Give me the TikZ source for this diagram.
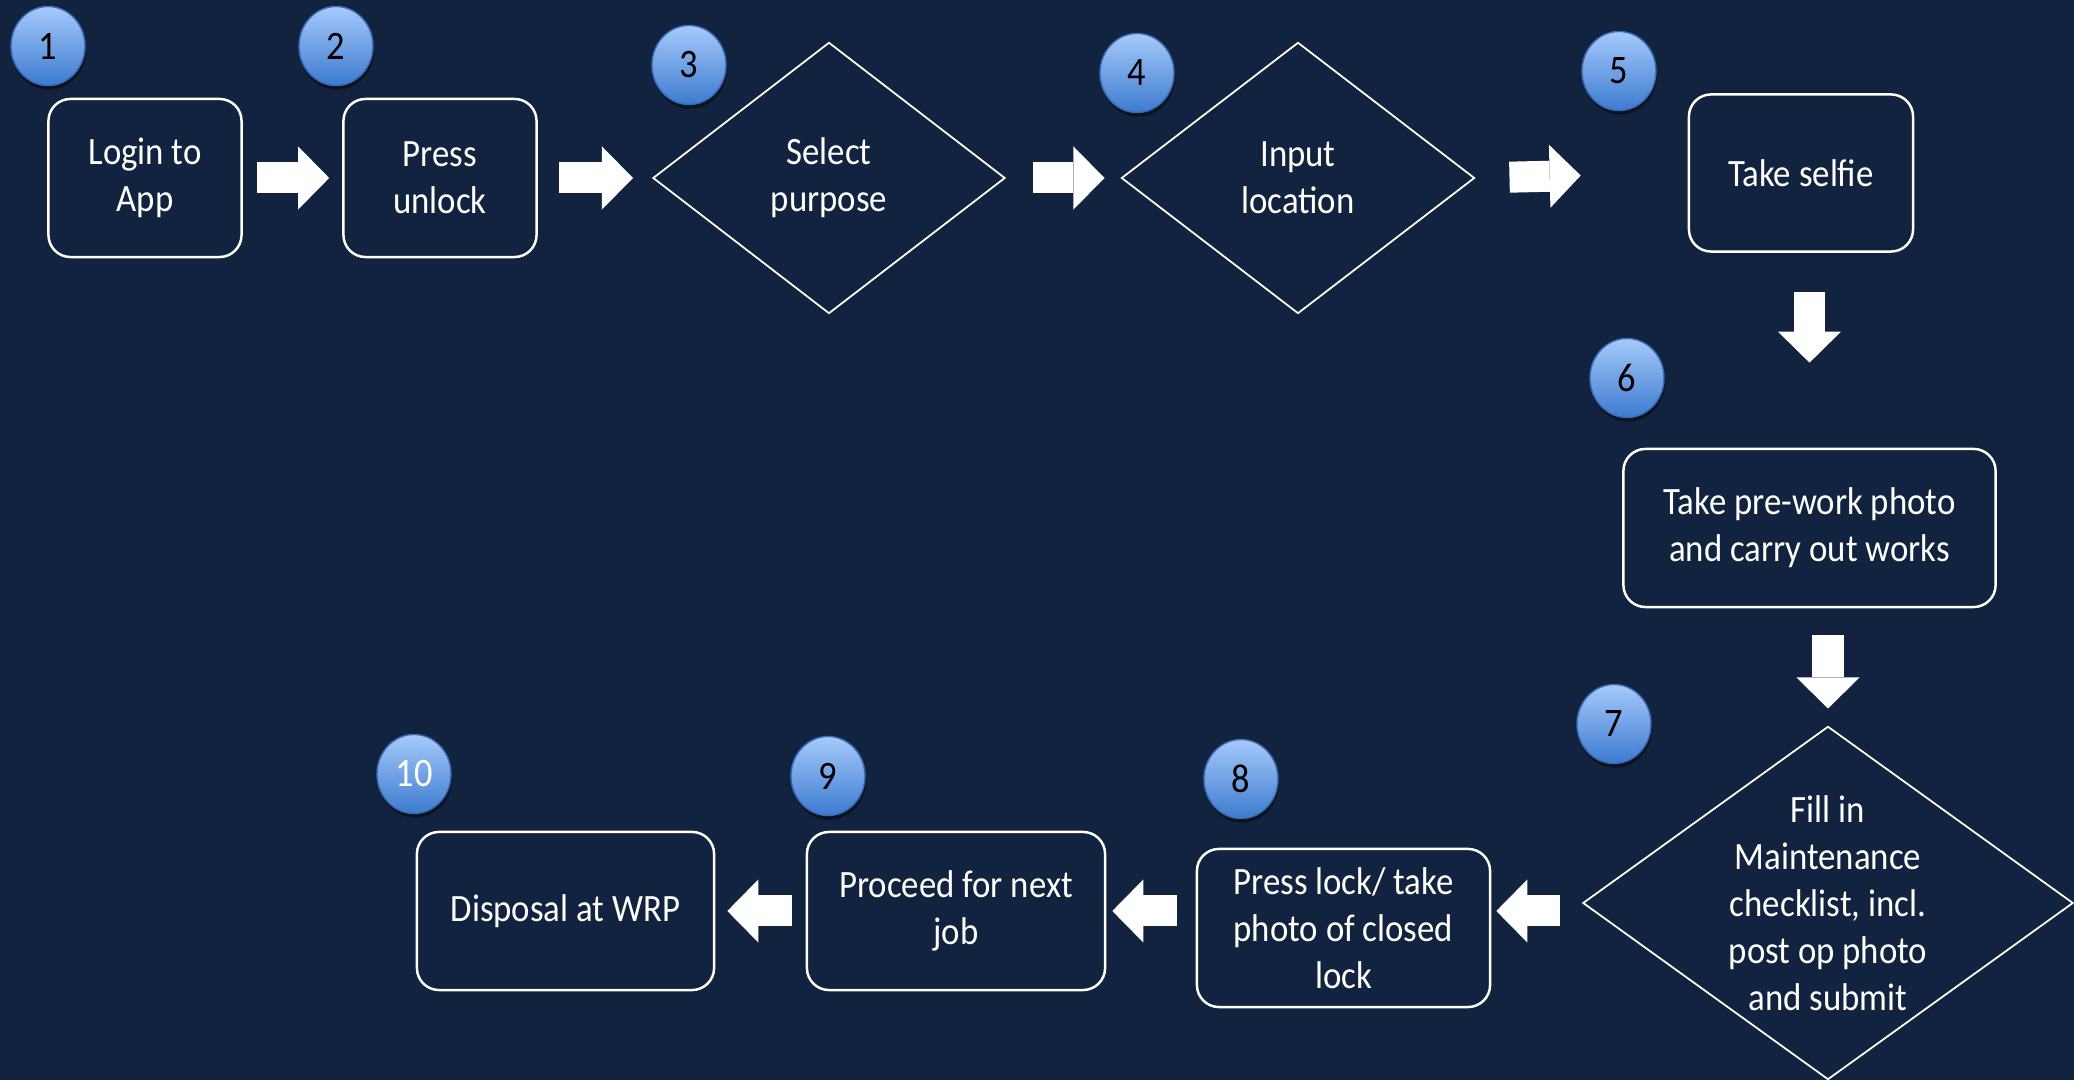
\documentclass[tikz,border=0pt]{standalone}
\usepackage{fontspec}
\setmainfont{Carlito}[FakeStretch=0.9]
\usetikzlibrary{shapes.geometric,arrows.meta,shadows}
\definecolor{navy}{HTML}{12233F}
\definecolor{badgetop}{HTML}{A6C9FB}
\definecolor{badgebot}{HTML}{3D7BCF}
\definecolor{badgeline}{HTML}{3A6AB4}
\tikzset{
	procbox/.style={draw=white, line width=0.7pt, rounded corners=0.22cm, minimum height=1.58cm, inner sep=0pt, align=center},
	decision/.style={diamond, draw=white, line width=0.5pt, inner sep=0pt, align=center},
	badge/.style={ellipse, draw=badgeline, line width=0.4pt, top color=badgetop, bottom color=badgebot, minimum width=0.74cm, minimum height=0.79cm, inner sep=0pt, text=black, font=\fontsize{11.5}{13}\selectfont, drop shadow={shadow xshift=0.3pt, shadow yshift=-1.2pt, opacity=0.45, fill=black}},
	blockarrow/.style={draw=white, line width=0.31cm, -{Triangle[length=0.31cm, width=0.63cm, line width=0pt]}},
}

\begin{document}
\begin{tikzpicture}[x=0.01cm, y=-0.01cm, text=white, font=\fontsize{11}{13.4}\selectfont]
		%%%%% START %%%%%
		
		\fill[navy] (0, 0) rectangle (2074, 1080);
		\useasboundingbox (0, 0) rectangle (2074, 1080);
		
		\node[procbox, minimum width=1.93cm] (login) at (145, 178) {Login to\\App};
		\node[procbox, minimum width=1.93cm] (unlock) at (440, 178) {Press\\unlock};
		\node[decision, minimum width=3.52cm, minimum height=2.71cm] (purpose) at (829, 178) {Select\\purpose};
		\node[decision, minimum width=3.53cm, minimum height=2.71cm] (location) at (1298, 178) {Input\\location};
		\node[procbox, minimum width=2.24cm, minimum height=1.57cm] (selfie) at (1801, 173) {Take selfie};
		
		\node[procbox, minimum width=3.72cm] (prework) at (1809.5, 528) {Take pre-work photo\\and carry out works};
		\node[decision, minimum width=4.90cm, minimum height=3.53cm,
			label={[align=center, text=white, font=\fontsize{11}{13.4}\selectfont]center:Fill in\\Maintenance\\checklist, incl.\\post op photo\\and submit}] (checklist) at (1828, 903) {};
		
		\node[procbox, minimum width=2.93cm] (lockbox) at (1343.5, 928) {Press lock/ take\\photo of closed\\lock};
		\node[procbox, minimum width=2.98cm] (nextjob) at (956, 911) {Proceed for next\\job};
		\node[procbox, minimum width=2.97cm] (disposal) at (565.5, 911) {Disposal at WRP};
		
		% step numbers
		\foreach \num/\px/\py in {1/48/46, 2/336/46, 3/689/65, 4/1137/73, 5/1619/71, 6/1627/378, 7/1614/724, 8/1241/779, 9/828/776}
			\node[badge] (n\num) at (\px, \py) {\num};
		\node[badge, text=white] (n10) at (414, 774) {10};
		
		% arrows
		\draw[blockarrow, shorten <=0.14cm, shorten >=0.13cm] (login.east) -- (unlock.west);
		\draw[blockarrow, shorten <=0.21cm, shorten >=0.19cm] (unlock.east) -- (purpose.west);
		\draw[blockarrow, shorten <=0.27cm, shorten >=0.16cm] (purpose.east) -- (location.west);
		\draw[blockarrow, shorten <=0.34cm, shorten >=1.07cm] (location.east) -- (selfie.west);
		
		\draw[blockarrow, shorten <=0.39cm, shorten >=0.85cm] (selfie.south -| prework.north) -- (prework.north);
		\draw[blockarrow, shorten <=0.27cm, shorten >=0.17cm] (prework.south -| checklist.north) -- (checklist.north);
		
		\draw[blockarrow, shorten <=0.22cm, shorten >=0.05cm] (checklist.west |- nextjob.east) -- (lockbox.east |- nextjob.east);
		\draw[blockarrow, shorten <=0.19cm, shorten >=0.06cm] (lockbox.west |- nextjob.east) -- (nextjob.east);
		\draw[blockarrow, shorten <=0.14cm, shorten >=0.12cm] (nextjob.west) -- (disposal.east);
		
		%%%%% END %%%%%
\end{tikzpicture}
\end{document}
